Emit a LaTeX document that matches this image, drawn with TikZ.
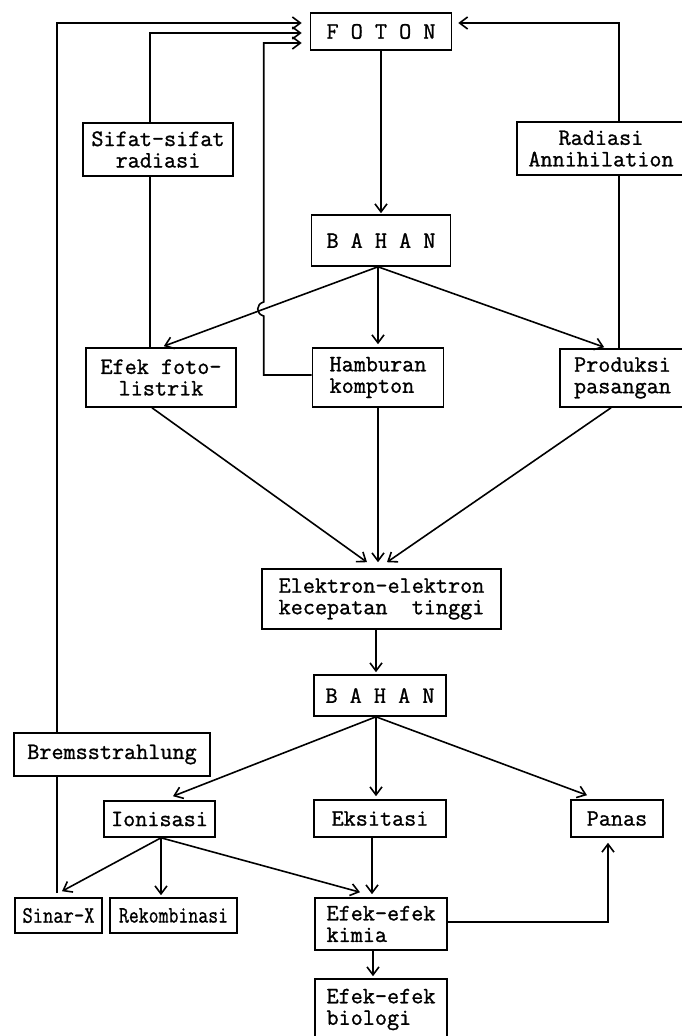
\documentclass[tikz,border=0pt]{standalone}
\usepackage{fontspec}
\usepackage{graphicx}
\usetikzlibrary{arrows.meta,calc}
\setmonofont{Latin Modern Mono}[FakeBold=1.1]
\begin{document}
\begin{tikzpicture}[x=1pt,y=-1pt,line width=1.6pt,
  box/.style={draw,line width=1.6pt,inner sep=0pt,align=center,
    font=\ttfamily\fontsize{23.5}{21.5}\selectfont},
  arr/.style={-{Straight Barb[length=8pt,width=12pt]}}]
\useasboundingbox (0,0) rectangle (682,1036);
\fill[white] (0,0) rectangle (682,1036);
% nodes
\node[box,minimum width=141pt,minimum height=37pt] (foton) at (381,31.5) {F O T O N};
\node[box,minimum width=150pt,minimum height=53pt] (sifat) at (158,149.5) {Sifat-sifat\\radiasi};
\node[box,minimum width=168pt,minimum height=53pt] (rad) at (601,148.5) {Radiasi\\Annihilation};
\node[box,minimum width=139pt,minimum height=51pt] (bahan1) at (381,240.5) {B A H A N};
\node[box,minimum width=150pt,minimum height=59pt] (efek) at (161,377.5) {Efek foto-\\listrik};
\node[box,align=left,minimum width=131pt,minimum height=59pt] (hamb) at (378,377.5) {Hamburan\\kompton};
\node[box,minimum width=125pt,minimum height=58pt] (prod) at (622.5,378) {Produksi\\pasangan};
\node[box,minimum width=239pt,minimum height=60pt] (elek) at (381.5,599) {Elektron-elektron\\kecepatan\ \ tinggi};
\node[box,minimum width=132pt,minimum height=41pt] (bahan2) at (380,695.5) {B A H A N};
\node[box,minimum width=196pt,minimum height=43pt] (brems) at (112,754.5) {Bremsstrahlung};
\node[box,minimum width=111pt,minimum height=36pt] (ion) at (159.5,819) {Ionisasi};
\node[box,minimum width=132pt,minimum height=37pt] (eks) at (380,818.5) {Eksitasi};
\node[box,minimum width=92pt,minimum height=37pt] (panas) at (617,818.5) {Panas};
\node[box,minimum width=87pt,minimum height=35pt] (sinar) at (58.5,915.5) {\scalebox{0.85}[1]{Sinar-X}};
\node[box,minimum width=127pt,minimum height=35pt] (rekom) at (173.5,915.5) {\scalebox{0.82}[1]{Rekombinasi}};
\node[box,align=left,minimum width=132pt,minimum height=52pt] (kimia) at (381,924) {Efek-efek\\kimia};
\node[box,align=left,minimum width=132pt,minimum height=61pt] (bio) at (381,1009.5) {Efek-efek\\biologi};
% upper part
\draw[arr,shorten >=1pt] (foton) -- (bahan1);
\coordinate (b1) at ([xshift=-3pt]bahan1.south);
\draw[arr,shorten >=3pt] (b1) -- (efek.north);
\draw[arr,shorten >=3pt] (b1) -- (b1 |- hamb.north);
\draw[arr,shorten >=3pt] (b1) -- ([xshift=-15.5pt]prod.north);
% feedback lines to FOTON
\draw[arr,shorten >=8pt] ([xshift=-55pt]brems.north) |- ([yshift=8.5pt]foton.west);
\draw ([xshift=-1.5pt,yshift=4pt]sinar.north) -- ([xshift=-1.5pt]sinar.north |- brems.south);
\draw[arr,shorten >=8pt] ([xshift=-8pt]sifat.north) |- ([yshift=-1.5pt]foton.west);
\draw ([xshift=-11pt]efek.north) -- ([xshift=-8pt]sifat.south);
\coordinate (hk) at ($(hamb.west)+(-48,-2.5)$);
\coordinate (hb1) at ($(hk)+(0,-59)$);
\coordinate (hb2) at ($(hk)+(0,-73)$);
\draw[arr,shorten >=8pt] ([yshift=2.5pt]hamb.west) -- (hk) -- (hb1)
  .. controls +(-8,-2) and +(-8,2) .. (hb2) |- ([yshift=-11.5pt]foton.west);
\draw[arr,shorten >=6pt] ([xshift=18pt]rad.north) |- ([yshift=8.5pt]foton.east);
\draw ([xshift=-3.5pt]prod.north) -- ([xshift=18pt]rad.south);
% to electrons
\coordinate (etip) at ([yshift=6pt]elek.north);
\draw[arr] ([xshift=-9pt]efek.south) -- ([xshift=-14.5pt]etip);
\draw[arr] (hamb.south) -- (hamb.south |- etip);
\draw[arr] ([xshift=-11.5pt]prod.south) -- ([xshift=5.5pt]etip);
\draw[arr,shorten >=2pt] ([xshift=-5.5pt]elek.south) -- ([xshift=-4pt]bahan2.north);
% lower part
\coordinate (b2) at ([xshift=-4pt]bahan2.south);
\draw[arr] (b2) -- ([xshift=13.5pt,yshift=4pt]ion.north);
\draw[arr,shorten >=3pt] (b2) -- (b2 |- eks.north);
\draw[arr] (b2) -- ([xshift=-30pt,yshift=4pt]panas.north);
\coordinate (i1) at ([xshift=1.5pt]ion.south);
\draw[arr] (i1) -- ([xshift=3.5pt,yshift=6pt]sinar.north);
\draw[arr,shorten >=2pt] (i1) -- (i1 |- rekom.north);
\draw[arr] (i1) -- ([xshift=-21pt,yshift=5pt]kimia.north);
\draw[arr,shorten >=3pt] ([xshift=-8pt]eks.south) -- ([xshift=-8pt]eks.south |- kimia.north);
\draw[arr] ([yshift=2pt]kimia.east) -| ([xshift=-9pt,yshift=-5pt]panas.south);
\draw[arr,shorten >=2pt] ([xshift=-8pt]kimia.south) -- ([xshift=-8pt]kimia.south |- bio.north);
\end{tikzpicture}
\end{document}
